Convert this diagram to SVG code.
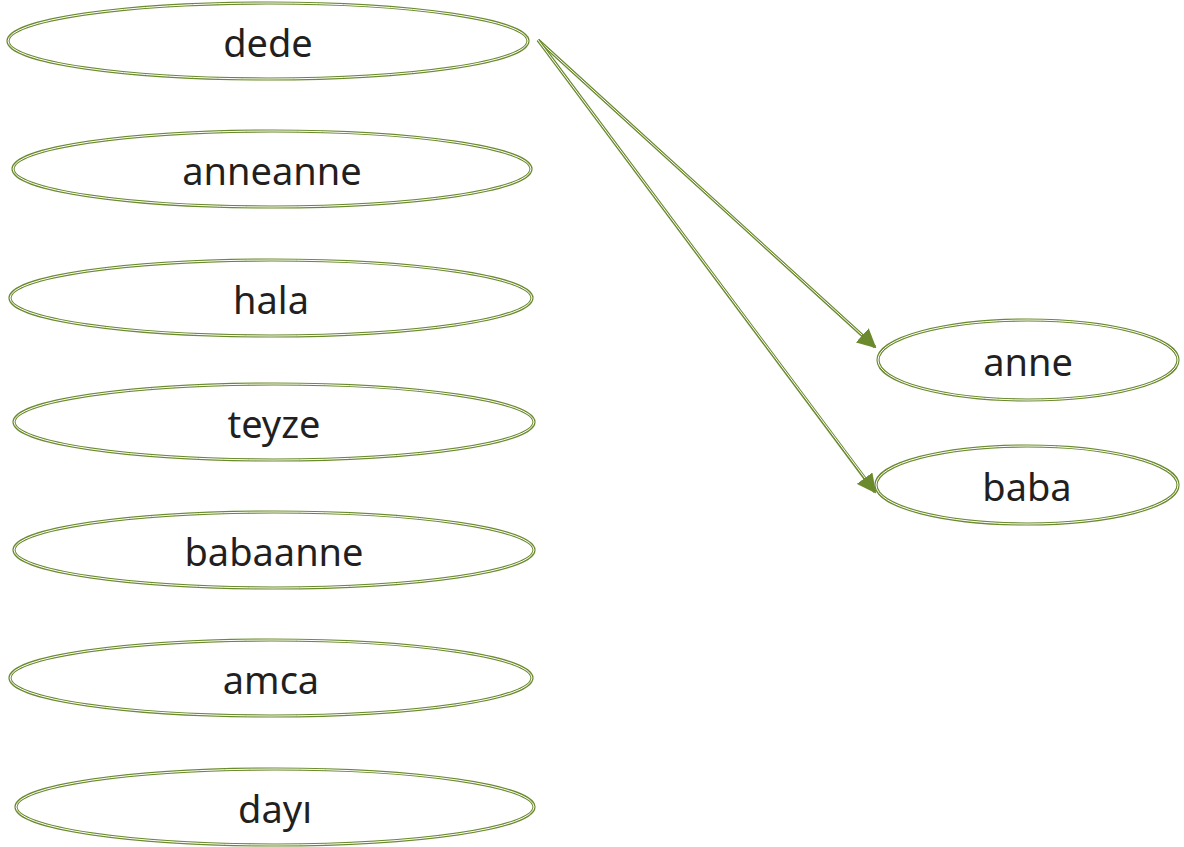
<svg xmlns="http://www.w3.org/2000/svg" width="1184" height="847" viewBox="0 0 1184 847">
<style>
.o{fill:#fff;stroke:#6b8a2e;stroke-width:3.2}
.i{fill:none;stroke:#fff;stroke-width:1}
.t{font-family:"Noto Sans","Liberation Sans",sans-serif;font-size:38px;fill:#231f20;text-anchor:middle;dominant-baseline:central}
.c{fill:none;stroke:#6b8a2e;stroke-width:3.2}
.ci{fill:none;stroke:#fff;stroke-width:1}
</style>
<defs>
<marker id="ah" viewBox="0 0 10 10" refX="9" refY="5" markerWidth="6" markerHeight="6" markerUnits="strokeWidth" orient="auto">
<path d="M0,0 L10,5 L0,10 z" fill="#6b8a2e"/>
</marker>
</defs>
<g id="connectors">
<line class="c" x1="538" y1="40" x2="875" y2="347" marker-end="url(#ah)"/>
<line class="ci" x1="538" y1="40" x2="862" y2="335"/>
<line class="c" x1="538" y1="40" x2="875" y2="492" marker-end="url(#ah)"/>
<line class="ci" x1="538" y1="40" x2="865" y2="478"/>
</g>
<g id="dede"><ellipse class="o" cx="268" cy="41" rx="260" ry="38"/><ellipse class="i" cx="268" cy="41" rx="260" ry="38"/><text class="t" x="268" y="42">dede</text></g>
<g id="anneanne"><ellipse class="o" cx="272" cy="169" rx="259" ry="38"/><ellipse class="i" cx="272" cy="169" rx="259" ry="38"/><text class="t" x="272" y="170">anneanne</text></g>
<g id="hala"><ellipse class="o" cx="271" cy="298" rx="261" ry="38"/><ellipse class="i" cx="271" cy="298" rx="261" ry="38"/><text class="t" x="271" y="299">hala</text></g>
<g id="teyze"><ellipse class="o" cx="274" cy="422" rx="260" ry="38"/><ellipse class="i" cx="274" cy="422" rx="260" ry="38"/><text class="t" x="274" y="423">teyze</text></g>
<g id="babaanne"><ellipse class="o" cx="274" cy="550" rx="260" ry="38"/><ellipse class="i" cx="274" cy="550" rx="260" ry="38"/><text class="t" x="274" y="551">babaanne</text></g>
<g id="amca"><ellipse class="o" cx="271" cy="678" rx="261" ry="38"/><ellipse class="i" cx="271" cy="678" rx="261" ry="38"/><text class="t" x="271" y="679">amca</text></g>
<g id="dayi"><ellipse class="o" cx="275" cy="807" rx="259" ry="38"/><ellipse class="i" cx="275" cy="807" rx="259" ry="38"/><text class="t" x="275" y="808">dayı</text></g>
<g id="anne"><ellipse class="o" cx="1028" cy="360" rx="150" ry="40"/><ellipse class="i" cx="1028" cy="360" rx="150" ry="40"/><text class="t" x="1028" y="361">anne</text></g>
<g id="baba"><ellipse class="o" cx="1027" cy="485" rx="151" ry="39"/><ellipse class="i" cx="1027" cy="485" rx="151" ry="39"/><text class="t" x="1027" y="486">baba</text></g>
</svg>
